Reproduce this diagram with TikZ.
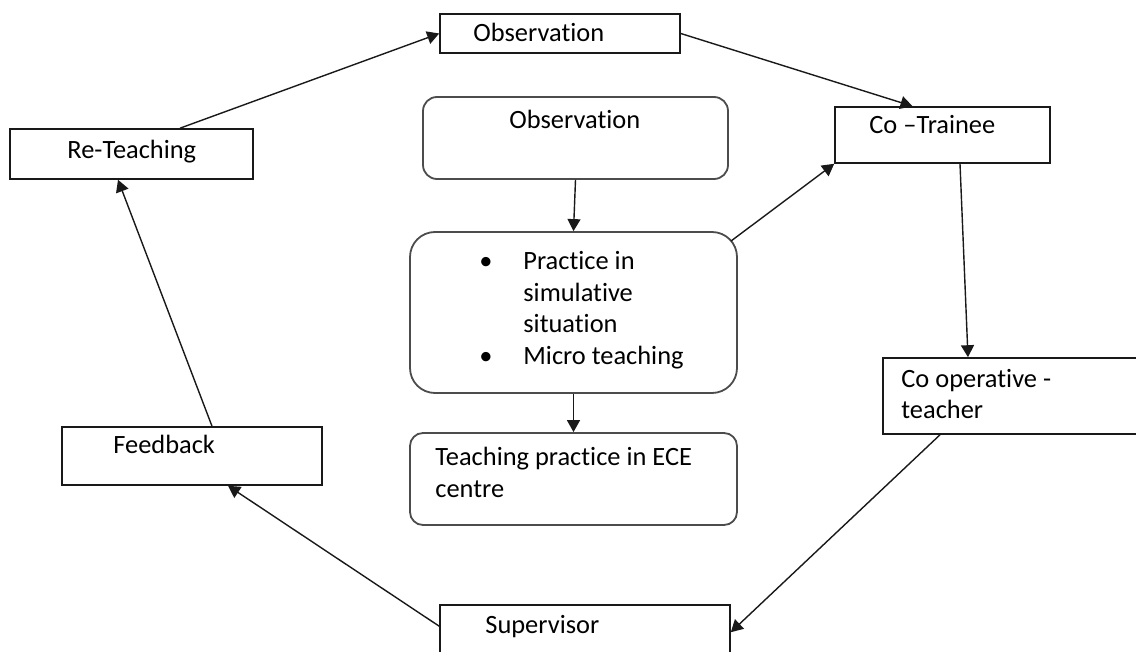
\documentclass[tikz,border=0pt]{standalone}
\usepackage{fontspec}
\setmainfont{Carlito}[Ligatures=NoCommon]
\usetikzlibrary{arrows.meta, calc}
\definecolor{lineBlack}{gray}{0.1}
\definecolor{roundGray}{gray}{0.3}

\tikzset{
  plainbox/.style={draw=lineBlack, line width=0.8pt, inner sep=0pt},
  softbox/.style={draw=roundGray, line width=0.9pt, inner sep=0pt},
  boxtext/.style={anchor=base west, inner sep=0pt, text=black},
  flow/.style={->, line width=0.7pt, draw=lineBlack}
}

\begin{document}
\begin{tikzpicture}[x=0.5pt, y=-0.5pt, >={Triangle[length=6pt,width=6.5pt]},
    font=\fontsize{13.2}{15.75}\selectfont]
    \useasboundingbox (0,0) rectangle (1136,652);

    % outer cycle
    \node[plainbox, minimum width=120pt, minimum height=19.5pt] (obsTop) at (560,33.5) {};
    \node[boxtext] (obsTopText) at (473,42) {Observation};

    \node[plainbox, minimum width=107.5pt, minimum height=28pt] (coTrainee) at (942.5,135) {};
    \node[boxtext] (coTraineeText) at (869,134) {Co \textendash Trainee};

    \node[plainbox, minimum width=129.5pt, minimum height=38pt] (coOp) at (1012.5,396) {};
    \node[boxtext] (coOpText) at (901,387)
        {\begin{tabular}[t]{@{}l@{}}Co operative -\\ teacher\end{tabular}};

    \node[plainbox, minimum width=145pt, minimum height=33.5pt] (sup) at (585,638.5) {};
    \node[boxtext] (supText) at (485,633) {Supervisor};

    \node[plainbox, minimum width=130pt, minimum height=29pt] (feedback) at (192,456) {};
    \node[boxtext] (feedbackText) at (113,453) {Feedback};

    \node[plainbox, minimum width=121.5pt, minimum height=25pt] (reTeach) at (131.5,154) {};
    \node[boxtext] (reTeachText) at (67,159) {Re-Teaching};

    % middle column
    \node[softbox, rounded corners=7pt, minimum width=152.5pt, minimum height=41pt] (obsMid) at (575.5,138) {};
    \node[boxtext] (obsMidText) at (509,129) {Observation};

    \node[softbox, rounded corners=12.5pt, minimum width=163.5pt, minimum height=80.5pt] (practice) at (573.5,312.5) {};
    \node[boxtext] (practiceText) at (479,270)
        {\begin{tabular}[t]{@{}p{22pt}@{}l@{}}
          • & Practice in\\
            & simulative\\
            & situation\\
          • & Micro teaching
        \end{tabular}};

    \node[softbox, rounded corners=6.5pt, minimum width=163.5pt, minimum height=46pt] (teach) at (573.5,479) {};
    \node[boxtext] (teachText) at (435,466)
        {\begin{tabular}[t]{@{}l@{}}Teaching practice in ECE\\ centre\end{tabular}};

    % connectors
    \draw[flow] ($(reTeach.north)+(48.5,0)$) -- (obsTop.west);
    \draw[flow] (obsTop.east) -- ($(coTrainee.north)+(-30,0)$);
    \draw[flow] ($(coTrainee.south)+(17.5,0)$) -- ($(coOp.north)+(-44.5,0)$);
    \draw[flow] ($(coOp.south)+(-72.5,0)$) -- ($(sup.north east)+(0,28)$);
    \draw[flow] ($(sup.north west)+(0,22)$) -- ($(feedback.south)+(36,0)$);
    \draw[flow] ($(feedback.north)+(20,0)$) -- ($(reTeach.south)+(-13.5,0)$);

    \draw[flow] (obsMid.south) -- (practice.north);
    \draw[flow] (practice.south) -- (teach.north);
    \draw[flow] ($(practice.north east)+(-7,10)$) -- (coTrainee.south west);
\end{tikzpicture}
\end{document}
